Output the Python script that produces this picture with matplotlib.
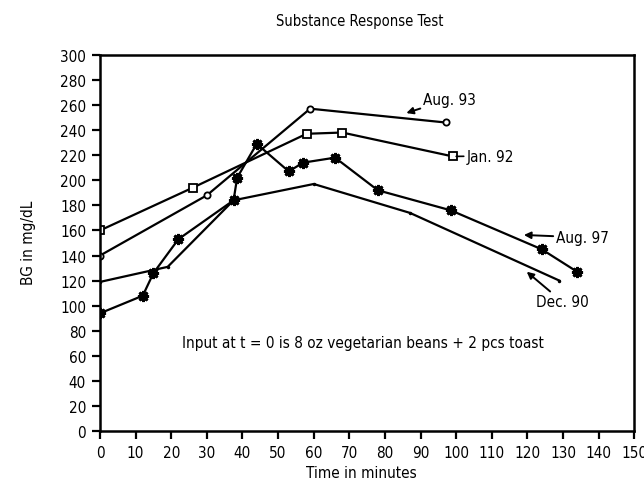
import matplotlib
matplotlib.use("Agg")
import matplotlib.pyplot as plt
from matplotlib import font_manager

# Use a condensed face if one is installed
condensed = [f for f in font_manager.fontManager.ttflist
             if f.stretch in ('condensed', 'semi-condensed', 'extra-condensed')
             or 'Condensed' in f.name or 'Narrow' in f.name]
if condensed:
    FONT = condensed[0].name
    STRETCH = condensed[0].stretch
    SCALE = 1.0
else:
    FONT = 'DejaVu Sans'
    STRETCH = 'normal'
    SCALE = 0.85
plt.rcParams['font.family'] = [FONT, 'DejaVu Sans']
plt.rcParams['font.stretch'] = STRETCH

# Data
aug93_t = [0, 30, 59, 97]
aug93_bg = [140, 188, 257, 246]

jan92_t = [0, 26, 58, 68, 99]
jan92_bg = [160, 194, 237, 238, 219]

aug97_t = [0, 12, 15, 22, 37.5, 38.5, 44, 53, 57, 66, 78, 98.5, 124, 134]
aug97_bg = [94, 108, 126, 153, 184, 202, 229, 207, 214, 218, 192, 176, 145, 127]

dec90_t = [0, 19, 37.5, 60, 87, 129]
dec90_bg = [119, 131, 184, 197, 174, 120]

x_ticks = list(range(0, 151, 10))
y_ticks = list(range(0, 301, 20))

fig = plt.figure(figsize=(6.44, 4.85), dpi=100)
ax = fig.add_axes([100/644, 1-432.3/485, 534.3/644, 376.6/485])

lw = 1.6
ax.plot(aug93_t, aug93_bg, color='black', lw=lw, marker='o', ms=4.5,
        mfc='white', mec='black', mew=1.3)
ax.plot(jan92_t, jan92_bg, color='black', lw=lw, marker='s', ms=6,
        mfc='white', mec='black', mew=1.3)
ax.plot(aug97_t, aug97_bg, color='black', lw=lw, marker=(8, 2, 0), ms=8,
        mec='black', mew=2)
ax.plot(dec90_t, dec90_bg, color='black', lw=lw, marker='o', ms=1.5,
        mfc='black', mec='black')

ax.set_xlim(0, 150)
ax.set_ylim(0, 300)
ax.set_xticks(x_ticks)
ax.set_yticks(y_ticks)
ax.tick_params(direction='out', length=6, width=1.6, labelsize=11*SCALE, pad=4)
for s in ax.spines.values():
    s.set_linewidth(1.8)

fs = 11 * SCALE
arrow = dict(arrowstyle='-|>', color='black', lw=1.4, mutation_scale=10,
             shrinkA=0, shrinkB=0)
ax.annotate('Aug. 93', xy=(86, 253.5), xytext=(90.7, 264.7), fontsize=fs,
            va='center', ha='left', arrowprops=arrow)
ax.annotate('Jan. 92', xy=(100, 219), xytext=(102.9, 219.3), fontsize=fs,
            va='center', ha='left',
            arrowprops=dict(arrowstyle='-', color='black', lw=1.2, shrinkA=0, shrinkB=0))
ax.annotate('Aug. 97', xy=(119, 156.4), xytext=(128, 154.5), fontsize=fs,
            va='center', ha='left', arrowprops=arrow)
ax.annotate('Dec. 90', xy=(119.8, 127.1), xytext=(122.4, 103.2), fontsize=fs,
            va='center', ha='left', arrowprops=arrow)
ax.text(22.9, 70.9, 'Input at t = 0 is 8 oz vegetarian beans + 2 pcs toast',
        fontsize=fs, va='center', ha='left')

fig.text(0.559, 1-21.7/485, 'Substance Response Test', fontsize=10.5*SCALE,
         ha='center', va='center')
fig.text(361/644, 1-474/485, 'Time in minutes', fontsize=fs, ha='center', va='center')
fig.text(29/644, 1-243/485, 'BG in mg/dL', fontsize=fs, ha='center', va='center',
         rotation=90)

fig.savefig('out.png', dpi=100)
